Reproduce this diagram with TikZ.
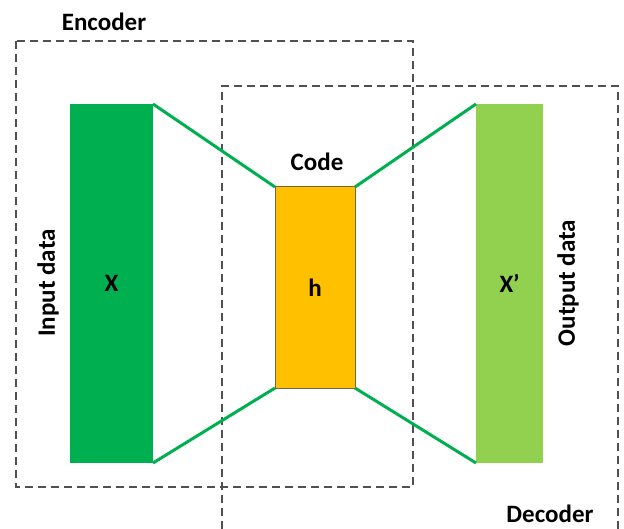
\documentclass[tikz,border=0pt]{standalone}
\usepackage{fontspec}
\setmainfont{Carlito}
\definecolor{encgreen}{HTML}{00B050}
\definecolor{decgreen}{HTML}{92D050}
\definecolor{codeyellow}{HTML}{FFC000}
\definecolor{frame}{HTML}{505050}
\begin{document}
\begin{tikzpicture}[x=1pt,y=-1pt,
  lbl/.style={font=\fontsize{25}{29}\selectfont\bfseries, text=black, inner sep=0pt},
  bar/.style={draw=none, minimum width=#1, inner sep=0pt, outer sep=0pt, anchor=north west},
  regionbox/.style={draw=frame, line width=1.3pt, dash pattern=on 8pt off 5pt},
  link/.style={draw=encgreen, line width=3pt}]
  \useasboundingbox (0,0) rectangle (624,529);

  % encoder and decoder regions
  \draw[regionbox] (16,41) rectangle (413,487);
  \draw[regionbox] (222,529) -- (222,86) -- (618,86) -- (618,529);

  % data bars and code layer
  \node[bar=83pt, minimum height=359pt, fill=encgreen] (x) at (70,104) {};
  \node[bar=80pt, minimum height=201pt, fill=codeyellow, draw=frame!80!codeyellow, line width=1pt] (h) at (275,187) {};
  \node[bar=67pt, minimum height=359pt, fill=decgreen] (xp) at (476,104) {};

  % connectors
  \draw[link] (x.north east) -- (h.north west);
  \draw[link] (x.south east) -- (h.south west);
  \draw[link] (h.north east) -- (xp.north west);
  \draw[link] (h.south east) -- (xp.south west);

  % labels
  \node[lbl] (xl) at (x.center) {X};
  \node[lbl] (hl) at (h.center) {h};
  \node[lbl] (xpl) at (xp.center) {X’};
  \node[lbl] (code) at (317,162) {Code};
  \node[lbl] (enc) at (104,22) {Encoder};
  \node[lbl] (dec) at (550,514) {Decoder};
  \node[lbl, rotate=90] (inp) at (48,283) {Input data};
  \node[lbl, rotate=90] (outp) at (568,283) {Output data};
\end{tikzpicture}
\end{document}
